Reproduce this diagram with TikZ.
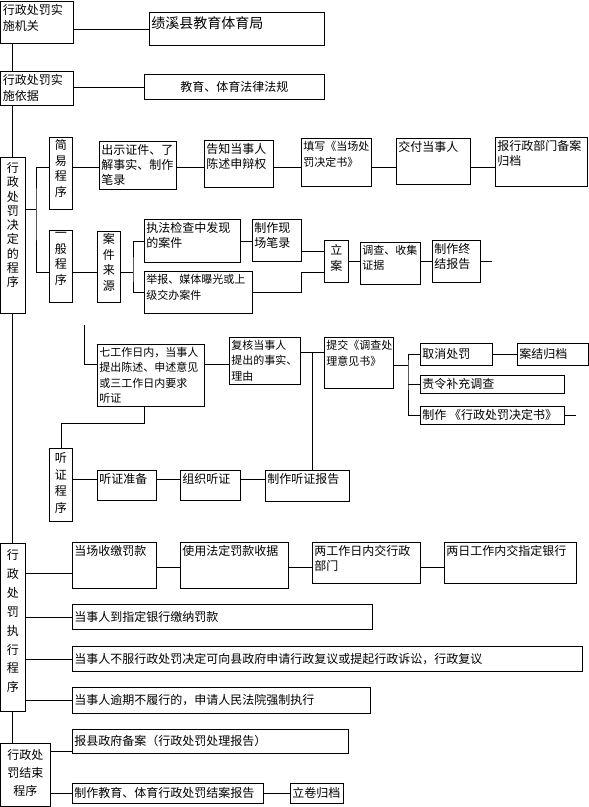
\documentclass[tikz,border=0pt]{standalone}
\usepackage{fontspec}
\setmainfont{Noto Sans CJK SC}

\begin{document}
\begin{tikzpicture}[
  x=1pt, y=-1pt,
  line width=0.8pt,
  box/.style={draw, anchor=north west, inner sep=0pt, font=\fontsize{12}{15}\selectfont},
  txt/.style={anchor=north west, align=left, inner xsep=2pt, inner ysep=3pt, font=\fontsize{12}{15}\selectfont},
  tighttxt/.style={txt, font=\fontsize{11}{15.3}\selectfont},
  ltxt/.style={txt, anchor=west},
  vtxt/.style={anchor=north, align=center, inner xsep=0pt, inner ysep=2pt, font=\fontsize{12}{15.5}\selectfont}
]
\useasboundingbox (0,0) rectangle (589,807);

% --- implementing body and basis
\node[box, minimum width=72pt, minimum height=42pt,
  label={[txt, font=\fontsize{12}{16}\selectfont]north west:行政处罚实\\施机关}] (jiguan) at (0.5,0.5) {};
\node[box, minimum width=175pt, minimum height=33pt,
  label={[txt, inner ysep=4pt, font=\fontsize{14}{16}\selectfont]north west:绩溪县教育体育局}] (jxj) at (149,12) {};
\node[box, minimum width=72pt, minimum height=34pt,
  label={[txt, font=\fontsize{12}{16}\selectfont]north west:行政处罚实\\施依据}] (yiju) at (0.5,71) {};
\node[box, minimum width=180pt, minimum height=25pt] (fagui) at (144,74) {教育、体育法律法规};

% --- decision procedure
\node[box, minimum width=24pt, minimum height=156pt,
  label={[vtxt, inner ysep=5pt, font=\fontsize{12}{14.3}\selectfont]north:行\\政\\处\\罚\\决\\定\\的\\程\\序}] (jueding) at (0.5,157) {};
\node[box, minimum width=23pt, minimum height=72pt,
  label={[vtxt]north:简\\易\\程\\序}] (jianyi) at (49,137) {};
\node[box, minimum width=23pt, minimum height=72pt,
  label={[vtxt]north:一\\般\\程\\序}] (yiban) at (49,230) {};

\node[box, minimum width=77pt, minimum height=48pt,
  label={[txt]north west:出示证件、了\\解事实、制作\\笔录}] (chushi) at (99,141) {};
\node[box, minimum width=69pt, minimum height=47pt,
  label={[txt]north west:告知当事人\\陈述申辩权}] (gaozhi) at (204,140) {};
\node[box, minimum width=70pt, minimum height=48pt,
  label={[tighttxt]north west:填写《当场处\\罚决定书》}] (tianxie) at (301,138) {};
\node[box, minimum width=74pt, minimum height=46pt,
  label={[txt]north west:交付当事人}] (jiaofu) at (396,138) {};
\node[box, minimum width=92pt, minimum height=49pt,
  label={[txt]north west:报行政部门备案\\归档}] (baobei) at (495,137) {};

\node[box, minimum width=23pt, minimum height=71pt,
  label={[vtxt]north:案\\件\\来\\源}] (anjian) at (97,231) {};
\node[box, minimum width=96pt, minimum height=43pt,
  label={[txt]north west:执法检查中发现\\的案件}] (zhifa) at (144,219) {};
\node[box, minimum width=108pt, minimum height=42pt,
  label={[tighttxt]north west:举报、媒体曝光或上\\级交办案件}] (jubao) at (144,271) {};
\node[box, minimum width=49pt, minimum height=42pt,
  label={[txt]north west:制作现\\场笔录}] (xianchang) at (252,219) {};
\node[box, minimum width=24pt, minimum height=42pt,
  label={[vtxt, inner ysep=4pt]north:立\\案}] (lian) at (324,240) {};
\node[box, minimum width=60pt, minimum height=42pt,
  label={[tighttxt]north west:调查、收集\\证据}] (diaocha) at (360,242) {};
\node[box, minimum width=48pt, minimum height=42pt,
  label={[txt]north west:制作终\\结报告}] (zhongjie) at (432,240) {};

\node[box, minimum width=107pt, minimum height=62pt,
  label={[tighttxt]north west:七工作日内，当事人\\提出陈述、申述意见\\或三工作日内要求\\听证}] (qigong) at (97,344) {};
\node[box, minimum width=71pt, minimum height=47pt,
  label={[tighttxt]north west:复核当事人\\提出的事实、\\理由}] (fuhe) at (229,337) {};
\node[box, minimum width=69pt, minimum height=51pt,
  label={[tighttxt]north west:提交《调查处\\理意见书》}] (tijiao) at (324,337) {};
\node[box, minimum width=72pt, minimum height=22pt,
  label={[ltxt]west:取消处罚}] (quxiao) at (420,343) {};
\node[box, minimum width=71pt, minimum height=22pt,
  label={[ltxt]west:案结归档}] (anjie) at (517,343) {};
\node[box, minimum width=144pt, minimum height=18pt,
  label={[ltxt]west:责令补充调查}] (zeling) at (420,375) {};
\node[box, minimum width=144pt, minimum height=18pt,
  label={[ltxt]west:制作 《行政处罚决定书》}] (zhizuo) at (420,406) {};

\node[box, minimum width=23pt, minimum height=73pt,
  label={[vtxt, inner ysep=4pt, font=\fontsize{12}{16.7}\selectfont]north:听\\证\\程\\序}] (tingzheng) at (49,448) {};
\node[box, minimum width=59pt, minimum height=30pt,
  label={[txt]north west:听证准备}] (zhunbei) at (97,470) {};
\node[box, minimum width=60pt, minimum height=30pt,
  label={[txt]north west:组织听证}] (zuzhi) at (180,470) {};
\node[box, minimum width=84pt, minimum height=31pt,
  label={[txt]north west:制作听证报告}] (baogao) at (265,470) {};

% --- enforcement procedure
\node[box, minimum width=24pt, minimum height=168pt,
  label={[vtxt, inner ysep=6pt, font=\fontsize{12}{18.9}\selectfont]north:行\\政\\处\\罚\\执\\行\\程\\序}] (zhixing) at (0.5,543) {};
\node[box, minimum width=84pt, minimum height=46pt,
  label={[txt]north west:当场收缴罚款}] (dangchang) at (72,542) {};
\node[box, minimum width=108pt, minimum height=46pt,
  label={[txt]north west:使用法定罚款收据}] (shouju) at (180,542) {};
\node[box, minimum width=108pt, minimum height=41pt,
  label={[txt]north west:两工作日内交行政\\部门}] (liangri1) at (312,542) {};
\node[box, minimum width=132pt, minimum height=41pt,
  label={[txt]north west:两日工作内交指定银行}] (liangri2) at (444,542) {};
\node[box, minimum width=300pt, minimum height=25pt,
  label={[ltxt]west:当事人到指定银行缴纳罚款}] (yinhang) at (72,604) {};
\node[box, minimum width=510pt, minimum height=25pt,
  label={[ltxt]west:当事人不服行政处罚决定可向县政府申请行政复议或提起行政诉讼，行政复议}] (bufu) at (72,646) {};
\node[box, minimum width=298pt, minimum height=26pt,
  label={[ltxt]west:当事人逾期不履行的，申请人民法院强制执行}] (yuqi) at (72,687) {};

% --- closing procedure
\node[box, minimum width=49pt, minimum height=63pt,
  label={[vtxt, inner ysep=6pt, font=\fontsize{12}{18}\selectfont]north:行政处\\罚结束\\程序}] (jieshu) at (0.5,743) {};
\node[box, minimum width=276pt, minimum height=24pt,
  label={[ltxt]west:报县政府备案（行政处罚处理报告）}] (beian) at (72,729) {};
\node[box, minimum width=191pt, minimum height=20pt,
  label={[ltxt]west:制作教育、体育行政处罚结案报告}] (jiean) at (72,783) {};
\node[box, minimum width=53pt, minimum height=20pt,
  label={[ltxt]west:立卷归档}] (lijuan) at (290,783) {};

% --- helper points
\coordinate (spine) at (12.5,0);
\coordinate (fork1) at (36,209);
\coordinate (fork2) at (133,272);
\coordinate (fork3) at (312,352);
\coordinate (fork4) at (408,365);
\coordinate (row1) at (0,167);
\coordinate (row2) at (0,272);
\coordinate (row4) at (0,251);
\coordinate (row5) at (0,364);
\coordinate (row7) at (0,479);
\coordinate (row8) at (0,573);
\coordinate (row9) at (0,567);
\coordinate (row10) at (0,751);
\coordinate (bend1) at (301,272);
\coordinate (bend2) at (144,423);
\coordinate (start2) at (84,325);
\coordinate (end1) at (492,0);
\coordinate (end2) at (576,0);

% --- connectors
\draw (jiguan.east |- jxj.west) -- (jxj.west);
\draw (jiguan.south -| spine) -- (yiju.north -| spine);
\draw (yiju.east |- fagui.west) -- (fagui.west);
\draw (yiju.south -| spine) -- (jueding.north -| spine);
\draw (jueding.south -| spine) -- (zhixing.north -| spine);
\draw (zhixing.south -| spine) -- (jieshu.north -| spine);

\draw (jueding.east |- fork1) -- (fork1);
\draw (jianyi.west |- row1) -| (fork1) |- (yiban.west |- row2);
\draw (jianyi.east |- row1) -- (chushi.west |- row1);
\draw (chushi.east |- row1) -- (gaozhi.west |- row1);
\draw (gaozhi.east |- row1) -- (tianxie.west |- row1);
\draw (tianxie.east |- row1) -- (jiaofu.west |- row1);
\draw (jiaofu.east |- row1) -- (baobei.west |- row1);

\draw (yiban.east |- row2) -- (anjian.west |- row2);
\draw (anjian.east |- row2) -- (fork2);
\draw (zhifa.west) -| (fork2) |- (jubao.west);
\draw (zhifa.east) -- (xianchang.west |- zhifa.east);
\draw (xianchang.east |- row4) -- (lian.west |- row4);
\draw (jubao.east) -| (bend1) -- (lian.west |- bend1);
\draw (lian.east) -- (diaocha.west |- lian.east);
\draw (diaocha.east |- zhongjie.west) -- (zhongjie.west);
\draw (zhongjie.east) -- (end1 |- zhongjie.east);

\draw (start2) |- (qigong.west |- row5);
\draw (qigong.east |- row5) -- (fuhe.west |- row5);
\draw (fuhe.east |- fork3) -- (tijiao.west |- fork3);
\draw (fork3) -- (fork3 |- baogao.north);
\draw (tijiao.east |- fork4) -- (fork4);
\draw (quxiao.west) -| (fork4) |- (zhizuo.west);
\draw (fork4 |- zeling.west) -- (zeling.west);
\draw (quxiao.east) -- (anjie.west);
\draw (zhizuo.east) -- (end2 |- zhizuo.east);

\draw (qigong.south -| bend2) -- (bend2) -| (tingzheng.north);
\draw (tingzheng.east |- row7) -- (zhunbei.west |- row7);
\draw (zhunbei.east |- row7) -- (zuzhi.west |- row7);
\draw (zuzhi.east |- row7) -- (baogao.west |- row7);

\draw (zhixing.east |- row8) -- (dangchang.west |- row8);
\draw (dangchang.east |- row9) -- (shouju.west |- row9);
\draw (shouju.east |- row9) -- (liangri1.west |- row9);
\draw (liangri1.east |- row9) -- (liangri2.west |- row9);
\draw (zhixing.east |- yinhang.west) -- (yinhang.west);
\draw (zhixing.east |- bufu.west) -- (bufu.west);
\draw (zhixing.east |- yuqi.west) -- (yuqi.west);

\draw (jieshu.east |- row10) -- (beian.west |- row10);
\draw (jieshu.east |- jiean.west) -- (jiean.west);
\draw (jiean.east) -- (lijuan.west);
\end{tikzpicture}
\end{document}
